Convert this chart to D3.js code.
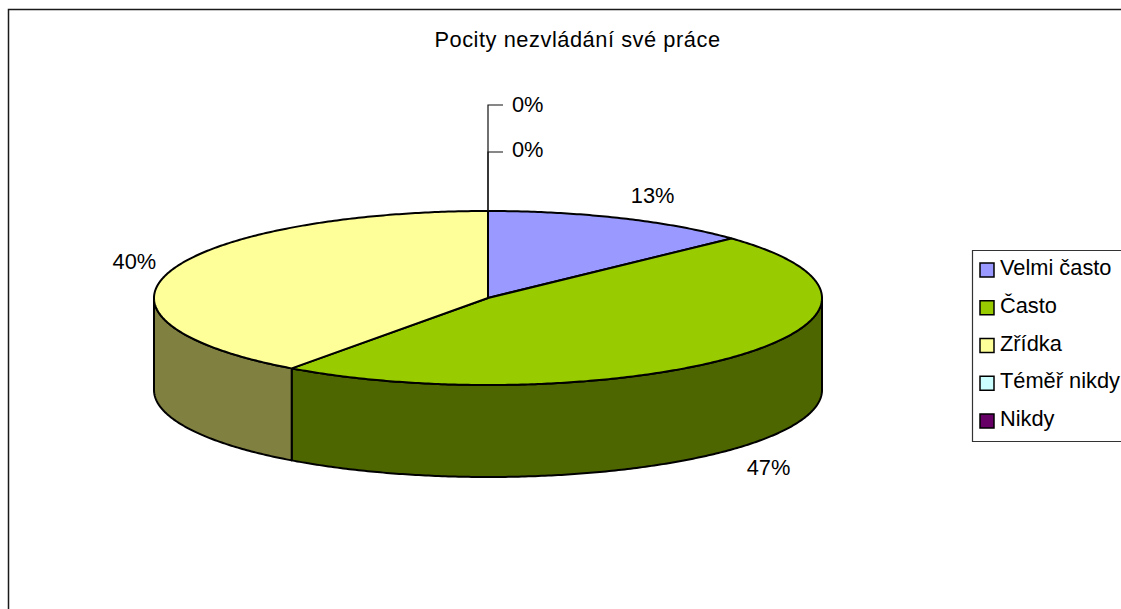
<!DOCTYPE html>
<html>
<head>
<meta charset="utf-8">
<script src="https://cdn.jsdelivr.net/npm/d3@7"></script>
<style>
  html, body { margin: 0; padding: 0; background: #fff; overflow: hidden; }
  svg { display: block; }
  text { font-family: "Liberation Sans", Arial, sans-serif; fill: #000; }
</style>
</head>
<body>
<svg id="chart" width="1121" height="609"></svg>
<script>
const chartTitle = "Pocity nezvládání své práce";
const categories = ["Velmi často", "Často", "Zřídka", "Téměř nikdy", "Nikdy"];
const shares = [13, 47, 40, 0, 0];
const topColors = ["#9999ff", "#99cc00", "#ffff99", "#ccffff", "#660066"];
const sideColors = ["#4d4d80", "#4d6600", "#808040", "#668080", "#330033"];

const svg = d3.select("#chart");
const TAU = Math.PI * 2;
const fontSize = 21.8;

// The tilted disc: unit-circle coordinates mapped onto an ellipse.
const cx = 488, cy = 298, rx = 334, ry = 87, depth = 92;
const px = d3.scaleLinear().domain([-1, 1]).range([cx - rx, cx + rx]);
const py = d3.scaleLinear().domain([-1, 1]).range([cy + ry, cy - ry]);
const rimX = a => px(Math.sin(a));
const rimY = a => py(Math.cos(a));

const slices = d3.pie().sort(null).value(d => d)(shares);
const line = d3.line();

function arcPoints(a0, a1, drop = 0) {
  const n = Math.max(2, Math.ceil(Math.abs(a1 - a0) / 0.01));
  return d3.range(n + 1).map(i => {
    const a = a0 + (a1 - a0) * i / n;
    return [rimX(a), rimY(a) + drop];
  });
}

// Outer frame: only the top and left edges fall inside the page.
svg.append("path")
  .attr("d", "M8.5,609V9.5H1121")
  .attr("fill", "none").attr("stroke", "#1a1a1a").attr("stroke-width", 1.5);

svg.append("text")
  .attr("x", 577.5).attr("y", 47)
  .attr("text-anchor", "middle").attr("font-size", fontSize)
  .attr("letter-spacing", 0.55)
  .text(chartTitle);

// Side walls: only the part of the rim facing the viewer is visible.
const gSide = svg.append("g");
slices.forEach((s, i) => {
  const a0 = Math.max(s.startAngle, TAU / 4);
  const a1 = Math.min(s.endAngle, TAU * 3 / 4);
  if (a1 <= a0) return;
  const upper = arcPoints(a0, a1);
  const lower = arcPoints(a1, a0, depth);
  gSide.append("path")
    .attr("d", line(upper.concat(lower)) + "Z")
    .attr("fill", sideColors[i])
    .attr("stroke", "#000").attr("stroke-width", 2).attr("stroke-linejoin", "round");
});

// Top face wedges.
const gTop = svg.append("g");
slices.forEach((s, i) => {
  if (s.endAngle <= s.startAngle) return;
  const pts = [[px(0), py(0)]].concat(arcPoints(s.startAngle, s.endAngle));
  gTop.append("path")
    .attr("d", line(pts) + "Z")
    .attr("fill", topColors[i])
    .attr("stroke", "#000").attr("stroke-width", 2).attr("stroke-linejoin", "round");
});

// Percentage labels, placed relative to each slice's mid-rim point.
const labelNudge = [[32, -21], [30, 113], [-36, -8]];
const gLabels = svg.append("g").attr("font-size", fontSize);
slices.forEach((s, i) => {
  if (s.value === 0) return;
  const mid = (s.startAngle + s.endAngle) / 2;
  gLabels.append("text")
    .attr("x", rimX(mid) + labelNudge[i][0])
    .attr("y", rimY(mid) + labelNudge[i][1] + 6)
    .attr("text-anchor", "middle")
    .text(d3.format(".0%")(s.value / d3.sum(shares)));
});

// Empty slices get leader lines rising from the top of the rim.
const leaderLevels = [152, 105];
slices.filter(s => s.value === 0).forEach((s, k) => {
  const x = rimX(s.startAngle), y = leaderLevels[k];
  gLabels.append("path")
    .attr("d", line([[x, rimY(s.startAngle)], [x, y], [x + 15, y]]))
    .attr("fill", "none").attr("stroke", "#111").attr("stroke-width", 1.2);
  gLabels.append("text")
    .attr("x", x + 24).attr("y", y + 7 - (k === 0 ? 2 : 0))
    .text(d3.format(".0%")(s.value / d3.sum(shares)));
});

// Legend, running off the right edge of the page.
const legendY = d3.scalePoint().domain(categories).range([270, 421]);
const legend = svg.append("g");
legend.append("path")
  .attr("d", "M1121,250.5H972.5V441.5H1121")
  .attr("fill", "#fff").attr("stroke", "#333").attr("stroke-width", 1.2);
categories.forEach((c, i) => {
  const y = legendY(c);
  legend.append("rect")
    .attr("x", 980).attr("y", y - 7).attr("width", 14).attr("height", 14)
    .attr("fill", topColors[i]).attr("stroke", "#000").attr("stroke-width", 1.5);
  legend.append("text")
    .attr("x", 1000).attr("y", y + 5).attr("font-size", fontSize)
    .text(c);
});
</script>
</body>
</html>
